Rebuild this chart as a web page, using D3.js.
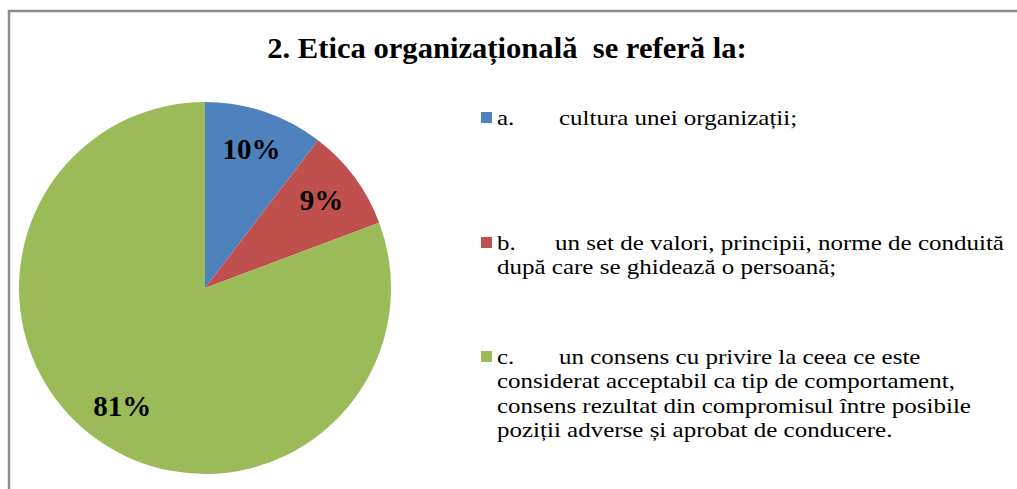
<!DOCTYPE html>
<html><head><meta charset="utf-8">
<script src="https://cdn.jsdelivr.net/npm/d3@7"></script>
<style>body{margin:0;background:#fff}svg{display:block}
text{font-family:"Liberation Serif","Times New Roman",serif}</style>
</head><body>
<svg id="c" width="1017" height="489"></svg>
<script>
const title = "2. Etica organizațională  se referă la:";
const categories = ["a.", "b.", "c."];
const values = [10.4, 8.9, 80.7];
const labels = ["10%", "9%", "81%"];
const legendLines = [
  ["cultura unei organizații;"],
  ["un set de valori, principii, norme de conduită", "după care se ghidează o persoană;"],
  ["un consens cu privire la ceea ce este", "considerat acceptabil ca tip de comportament,", "consens rezultat din compromisul între posibile", "poziții adverse și aprobat de conducere."]
];
const colors = ["#4f81bd", "#c0504d", "#9bbb59"];

const svg = d3.select("#c");
svg.append("rect").attr("x", 9).attr("y", 11).attr("width", 1030).attr("height", 500)
  .attr("fill", "none").attr("stroke", "#8c8c8c").attr("stroke-width", 2.5);

svg.append("text").attr("transform", "translate(507,58) scale(1.02,1)").attr("text-anchor", "middle")
  .attr("font-weight", "bold").attr("font-size", 30)
  .style("white-space", "pre")
  .text(title);

const cx = 205, cy = 288, r = 186;
const pie = d3.pie().sort(null).value(d => d)(values);
const arc = d3.arc().innerRadius(0).outerRadius(r);
const labelArc = d3.arc().innerRadius(145).outerRadius(145);
const g = svg.append("g").attr("transform", `translate(${cx},${cy})`);
g.selectAll("path").data(pie).join("path").attr("d", arc).attr("fill", (d, i) => colors[i]);
g.selectAll("text").data(pie).join("text")
  .attr("transform", d => `translate(${labelArc.centroid(d)})`)
  .attr("text-anchor", "middle").attr("dy", "0.3em")
  .attr("font-weight", "bold").attr("font-size", 29)
  .attr("fill", "#000").text((d, i) => labels[i]);

const sx = 1.19, lx = 497, lh = 24.5;
const legendY = [125, 250, 364];
const tabX = [559, 555, 559];
const lg = svg.append("g");
categories.forEach((c, i) => {
  const y = legendY[i];
  lg.append("rect").attr("x", 481).attr("y", y - 13).attr("width", 11).attr("height", 11).attr("fill", colors[i]);
  const t = lg.append("text").attr("transform", `translate(${lx},${y}) scale(${sx},1)`)
    .attr("font-size", 21).attr("fill", "#000");
  t.append("tspan").attr("x", 0).attr("y", 0).text(c);
  legendLines[i].forEach((ln, j) => {
    t.append("tspan").attr("x", j === 0 ? (tabX[i] - lx) / sx : 0).attr("y", j * lh).text(ln);
  });
});
</script>
</body></html>
